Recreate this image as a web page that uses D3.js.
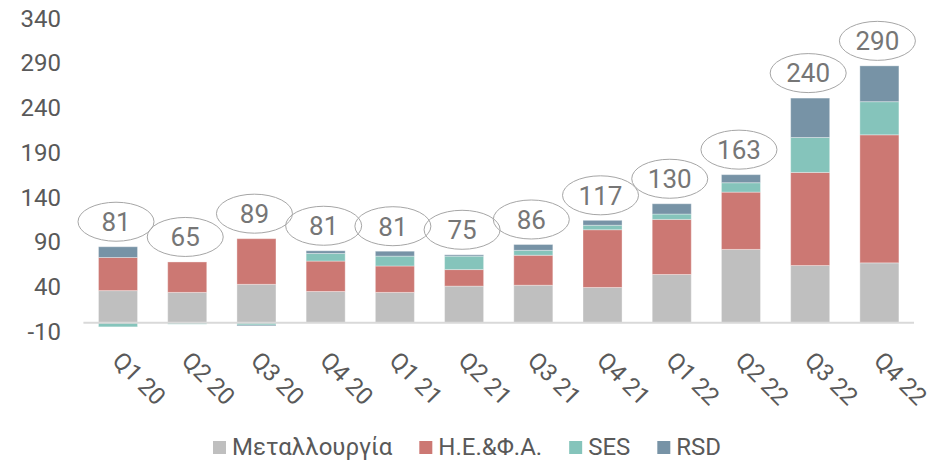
<!DOCTYPE html>
<html>
<head>
<meta charset="utf-8">
<script src="https://cdn.jsdelivr.net/npm/d3@7"></script>
<style>
  body { margin: 0; background: #fff; }
  svg text { font-family: Roboto, "Noto Sans", sans-serif; }
</style>
</head>
<body>
<script>
const w = 940;
const h = 460;

const quarters = ["Q1 20", "Q2 20", "Q3 20", "Q4 20", "Q1 21", "Q2 21", "Q3 21", "Q4 21", "Q1 22", "Q2 22", "Q3 22", "Q4 22"];
const metallurgy = [36, 34, 43, 35, 34, 41, 42, 39.5, 54, 82, 64, 67];
const hefa = [37, 34, 51, 34, 29.5, 18.5, 33.5, 64.5, 61.5, 64, 104, 143];
const ses = [-4.5, -1.5, -2.5, 8.5, 11, 15, 5.5, 5, 6, 10.5, 39, 37];
const rsd = [12, 0, -1, 3, 5.5, 1.5, 6.5, 5.5, 11.5, 9, 44, 40];
const totals = [81, 65, 89, 81, 81, 75, 86, 117, 130, 163, 240, 290];
const yTicks = [-10, 40, 90, 140, 190, 240, 290, 340];

const seriesKeys = ["Μεταλλουργία", "Η.Ε.&Φ.Α.", "SES", "RSD"];
const seriesColor = ["#bfbfbf", "#cc7873", "#85c4bb", "#7793a6"];

const table = quarters.map(function(q, i) {
  return {
    q: q,
    "Μεταλλουργία": metallurgy[i],
    "Η.Ε.&Φ.Α.": hefa[i],
    "SES": ses[i],
    "RSD": rsd[i],
    total: totals[i]
  };
});

const stacked = d3.stack()
                  .keys(seriesKeys)
                  .offset(d3.stackOffsetDiverging)(table);

const xScale = d3.scaleBand()
                 .domain(quarters)
                 .range([83.4, 914])
                 .paddingInner(0.436)
                 .paddingOuter(0.218);

const yScale = d3.scaleLinear()
                 .domain([-10, 340])
                 .range([331.8, 18.4]);

const svg = d3.select("body")
              .append("svg")
              .attr("width", w)
              .attr("height", h);

// y labels only, no axis line
const yAxis = d3.axisLeft(yScale)
                .tickValues(yTicks)
                .tickFormat(d => String(d))
                .tickSize(0)
                .tickPadding(0);

const yG = svg.append("g")
              .attr("transform", "translate(61,0)")
              .call(yAxis);
yG.select(".domain").remove();
yG.selectAll("text")
  .attr("fill", "#595959")
  .style("font-size", "24px");

// stacked bars
svg.selectAll(".series")
   .data(stacked)
   .enter()
   .append("g")
   .attr("class", "series")
   .attr("fill", (d, i) => seriesColor[i])
   .selectAll("rect")
   .data(d => d)
   .enter()
   .append("rect")
   .attr("x", d => xScale(d.data.q))
   .attr("y", d => yScale(Math.max(d[0], d[1])))
   .attr("width", xScale.bandwidth())
   .attr("height", d => Math.abs(yScale(d[0]) - yScale(d[1])))
   .attr("stroke", "#ffffff")
   .attr("stroke-opacity", 0.35)
   .attr("stroke-width", 1);

// zero line
svg.append("line")
   .attr("x1", xScale.range()[0])
   .attr("x2", xScale.range()[1])
   .attr("y1", yScale(0))
   .attr("y2", yScale(0))
   .attr("stroke", "#d9d9d9")
   .attr("stroke-width", 2);

// total bubbles
const posTop = function(i) {
  return d3.max(stacked, s => Math.max(s[i][0], s[i][1]));
};

const bubbles = svg.selectAll(".bubble")
                   .data(table)
                   .enter()
                   .append("g")
                   .attr("class", "bubble")
                   .attr("transform", (d, i) => "translate(" + (xScale(d.q) + xScale.bandwidth() / 2 - 2) + "," + (yScale(posTop(i)) - 25) + ")");

bubbles.append("ellipse")
       .attr("rx", 38)
       .attr("ry", 19.5)
       .attr("fill", "none")
       .attr("stroke", "#a6a6a6")
       .attr("stroke-width", 1);

bubbles.append("text")
       .attr("text-anchor", "middle")
       .attr("dy", "0.36em")
       .attr("fill", "#767676")
       .style("font-size", "26px")
       .text(d => d.total);

// rotated category labels
const lblX = d => xScale(d) + xScale.bandwidth() / 2 - 7;
const lblY = 362;
svg.selectAll(".xlabel")
   .data(quarters)
   .enter()
   .append("text")
   .attr("class", "xlabel")
   .attr("x", lblX)
   .attr("y", lblY)
   .attr("transform", d => "rotate(45," + lblX(d) + "," + lblY + ")")
   .attr("fill", "#595959")
   .style("font-size", "24px")
   .text(d => d);

// legend
const legend = svg.append("g").attr("class", "legend");
let lx = 213;
seriesKeys.forEach(function(k, i) {
  legend.append("rect")
        .attr("x", lx)
        .attr("y", 441)
        .attr("width", 13)
        .attr("height", 13)
        .attr("fill", seriesColor[i]);
  const t = legend.append("text")
                  .attr("x", lx + 19)
                  .attr("y", 455)
                  .attr("fill", "#595959")
                  .style("font-size", "24px")
                  .text(k);
  lx = lx + 19 + t.node().getComputedTextLength() + 27;
});
</script>
</body>
</html>
